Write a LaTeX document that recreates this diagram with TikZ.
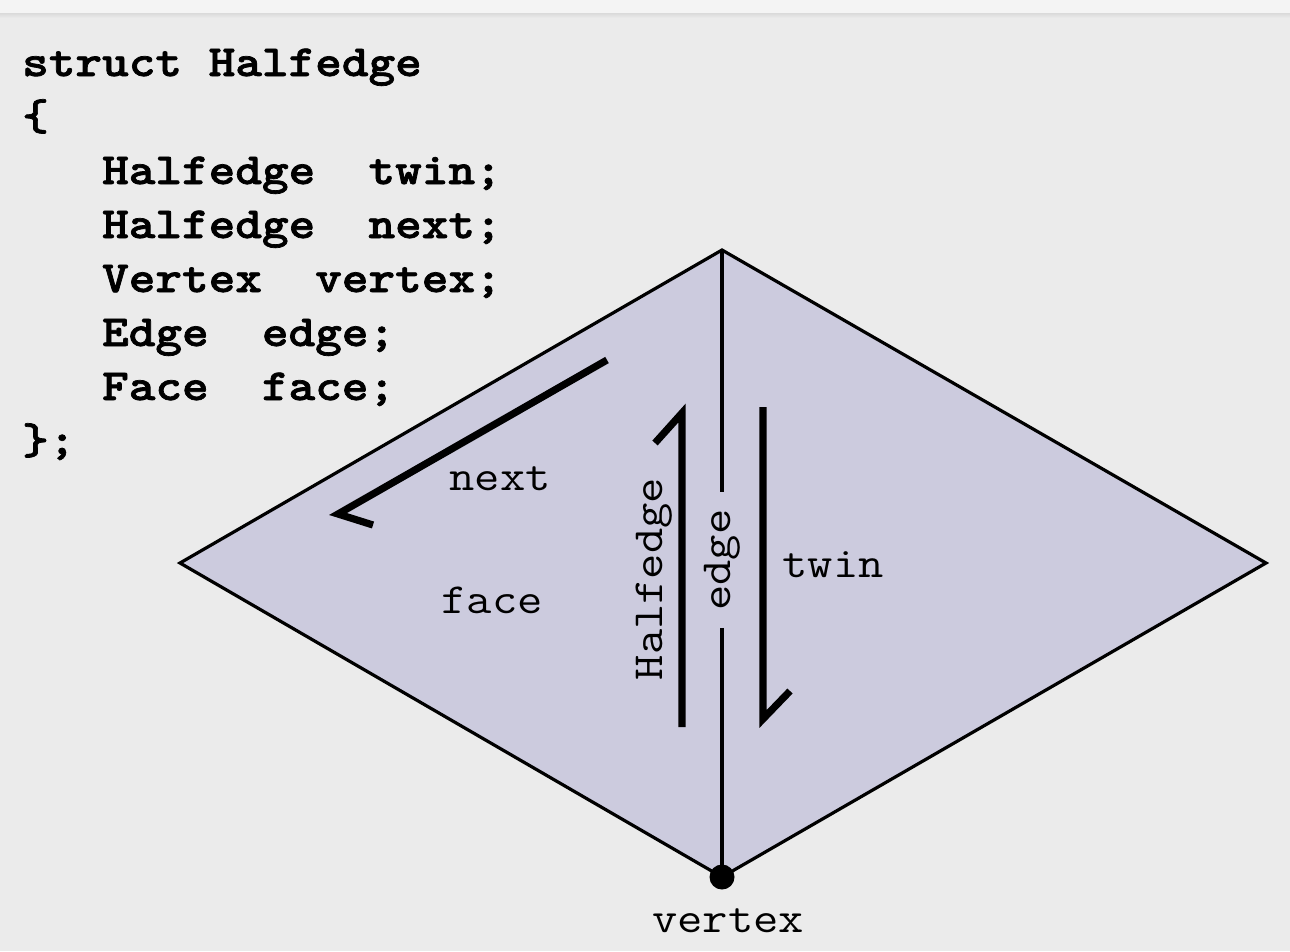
\documentclass[tikz,border=0pt]{standalone}
\usepackage{fontspec}
\usepackage{graphicx}
% heavy typewriter face for the declaration, Courier-like widths
\newfontfamily\codefont{lmmonolt10-bold.otf}[FakeStretch=1.143, FakeBold=1.6]
\definecolor{pagebg}{RGB}{235,235,235}
\definecolor{bandbg}{RGB}{244,244,244}
\definecolor{bandedge}{RGB}{218,218,218}
\definecolor{facefill}{RGB}{204,203,222}
% Courier-like widths from Latin Modern Mono, stretched horizontally
\newcommand{\cwide}[1]{\scalebox{1.143}[1]{#1}}
\tikzset{
  codeline/.style={anchor=base west, inner sep=0pt,
    font=\codefont\fontsize{44.4}{54}\selectfont},
  lbl/.style={inner sep=0pt, font=\ttfamily\fontsize{43}{50}\selectfont},
  halfarrow/.style={line width=7.2pt, line join=miter, line cap=butt},
  meshline/.style={line width=3.2pt, line join=miter},
}
\begin{document}
\begin{tikzpicture}[x=1pt,y=-1pt]
  \useasboundingbox (0,0) rectangle (1290,951);
  % page background and top strip
  \fill[pagebg] (0,0) rectangle (1290,951);
  \fill[bandbg] (0,0) rectangle (1290,13);
  \shade[top color=bandedge, bottom color=pagebg] (0,13) rectangle (1290,18);

  % the two faces sharing one edge
  \coordinate (T) at (722,250);
  \coordinate (R) at (1266,563);
  \coordinate (B) at (722,877);
  \coordinate (L) at (180,563);
  \filldraw[fill=facefill, meshline] (T) -- (R) -- (B) -- (L) -- cycle;

  % edge label interrupting the shared edge
  \node[lbl, rotate=90, inner xsep=17pt] (elabel) at (722,560) {\cwide{edge}};
  \draw[meshline] (T) -- (T |- elabel.east);
  \draw[meshline] (B |- elabel.west) -- (B);

  % vertex
  \node[circle, fill=black, minimum size=25pt, inner sep=0pt] (vdot) at (B) {};
  \node[lbl, anchor=base] (vlabel) at (728,932) {\cwide{vertex}};

  % halfedge arrow (pointing up)
  \coordinate (h0) at (682,727);
  \coordinate (h1) at (682,413);
  \coordinate (h2) at (655,443);
  \draw[halfarrow] (h0) -- (h1) -- (h2);
  \node[lbl, rotate=90, anchor=base] (hlabel) at (662,579) {\cwide{Halfedge}};

  % twin arrow (pointing down)
  \coordinate (t0) at (763,407);
  \coordinate (t1) at (763,719);
  \coordinate (t2) at (790,691);
  \draw[halfarrow] (t0) -- (t1) -- (t2);
  \node[lbl, anchor=base] (tlabel) at (833,577) {\cwide{twin}};

  % next arrow
  \coordinate (n0) at (607,360);
  \coordinate (n1) at (338,514);
  \coordinate (n2) at (373,525);
  \draw[halfarrow] (n0) -- (n1) -- (n2);
  \node[lbl] (nlabel) at (500,479) {\cwide{next}};

  % face label
  \node[lbl, anchor=base] (flabel) at (492,613) {\cwide{face}};

  % struct declaration
  \node[codeline] (c0) at (22,76)  {struct Halfedge};
  \node[codeline] (c1) at (22,130) {\{};
  \node[codeline] (c2) at (22,184) {\ \ \ Halfedge\ \ twin;};
  \node[codeline] (c3) at (22,238) {\ \ \ Halfedge\ \ next;};
  \node[codeline] (c4) at (22,292) {\ \ \ Vertex\ \ vertex;};
  \node[codeline] (c5) at (22,346) {\ \ \ Edge\ \ edge;};
  \node[codeline] (c6) at (22,400) {\ \ \ Face\ \ face;};
  \node[codeline] (c7) at (22,454) {\};};
\end{tikzpicture}
\end{document}
